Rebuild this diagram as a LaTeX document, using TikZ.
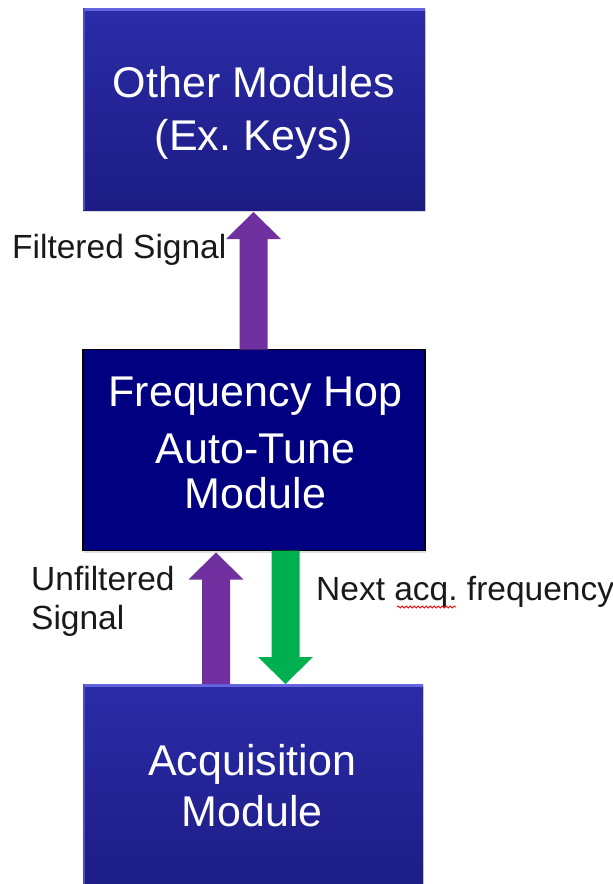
\documentclass[tikz,border=0pt]{standalone}
\usepackage{fontspec}
\setmainfont{Liberation Sans}
\usetikzlibrary{calc,shadows,decorations.pathmorphing}
\definecolor{boxtop}{HTML}{2B2BA8}
\definecolor{boxbot}{HTML}{1C1C84}
\definecolor{bevel}{HTML}{6464E0}
\definecolor{navyfill}{HTML}{000080}
\definecolor{arrpurple}{HTML}{7030A0}
\definecolor{arrgreen}{HTML}{00B050}
\newcommand\blockarrow[3]{%
  \fill[#3] let \p1=(#1), \p2=(#2), \p3=($(#2)!27pt!(#1)$) in
  (\x1-14pt,\y1) -- (\x1-14pt,\y3) -- (\x1-27.5pt,\y3) -- (\x2,\y2)
  -- (\x1+27.5pt,\y3) -- (\x1+14pt,\y3) -- (\x1+14pt,\y1) -- cycle;}
\frenchspacing
\begin{document}
\begin{tikzpicture}[x=1pt,y=-1pt,
  gradbox/.style={rectangle, inner sep=0pt, outer sep=0pt,
    top color=boxtop, bottom color=boxbot,
    drop shadow={shadow xshift=1pt, shadow yshift=-2pt, opacity=0.3}},
  flatbox/.style={rectangle, inner sep=0pt, outer sep=0pt, fill=navyfill,
    draw=black, line width=1.5pt,
    drop shadow={shadow xshift=1pt, shadow yshift=-2pt, opacity=0.25}},
  boxtext/.style={text=white, align=center, inner sep=0pt},
  lbl/.style={font=\fontsize{33.5}{39}\selectfont, inner sep=0pt, text=black!90},
  bevelline/.style={bevel, line width=3pt}]
\useasboundingbox (0,0) rectangle (613,884);
% boxes
\node[gradbox, minimum width=342pt, minimum height=202pt] (top) at (254,109) {};
\node[flatbox, minimum width=342pt, minimum height=201pt] (mid) at (254,450) {};
\node[gradbox, minimum width=340pt, minimum height=210pt] (acq) at (253,789) {};
% bevels
\draw[bevelline] ([yshift=-1.5pt]top.north west) -- ([yshift=-1.5pt]top.north east);
\draw[bevelline] ([yshift=-1.5pt]acq.north west) -- ([yshift=-1.5pt]acq.north east);
\draw[bevel!60!boxtop, line width=2pt] ([xshift=1pt]top.north west) -- ([xshift=1pt]top.south west);
\draw[bevel!60!boxtop, line width=2pt] ([xshift=1pt]acq.north west) -- ([xshift=1pt]acq.south west);
% box texts
\node[boxtext, font=\fontsize{43}{53}\selectfont] (topt) at (254,112.5) {Other Modules\\(Ex. Keys)};
\node[boxtext, font=\fontsize{43}{45}\selectfont] (midt) at (255.5,443) {Frequency Hop\\[12pt]Auto-Tune\\Module};
\node[boxtext, font=\fontsize{43}{51}\selectfont] (acqt) at (252,785.5) {Acquisition\\Module};
% block arrows
\coordinate (fs) at ($(mid.north)+(-0.5,0)$);
\coordinate (ft) at ($(top.south)+(-0.5,2)$);
\blockarrow{fs}{ft}{arrpurple}
\coordinate (us) at ($(acq.north)+(-37,0)$);
\coordinate (ut) at ($(us |- mid.south)+(0,2)$);
\blockarrow{us}{ut}{arrpurple}
\coordinate (ns) at ($(mid.south)+(31.5,0)$);
\coordinate (nt) at (ns |- acq.north);
\blockarrow{ns}{nt}{arrgreen}
% labels
\node[lbl, anchor=base west] (fl) at (12,258) {Filtered Signal};
\node[lbl, anchor=west, align=left] (ul) at (31,601) {Unfiltered\\Signal};
\node[lbl, anchor=base west] (nl) at (316,600) {Next acq. frequency};
\draw[red, line width=0.8pt, decorate, decoration={snake, amplitude=1pt, segment length=4pt}] (397,607) -- (456,607);
\end{tikzpicture}
\end{document}
